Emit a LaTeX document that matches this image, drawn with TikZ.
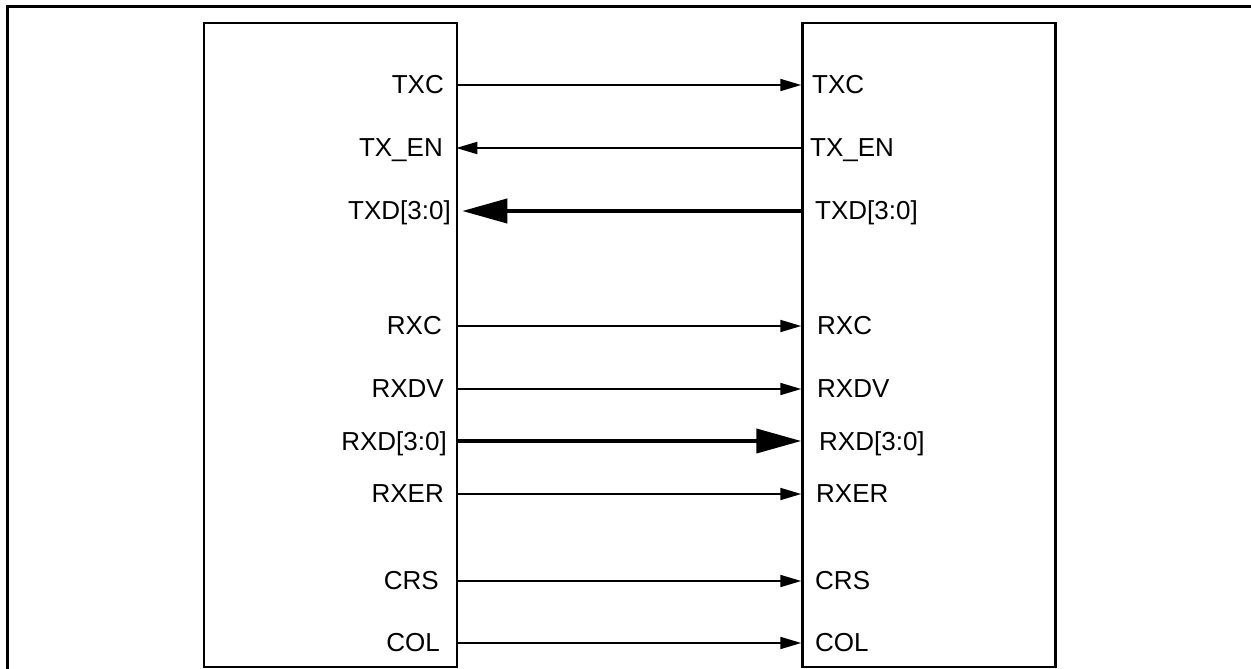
\documentclass[tikz,border=0pt]{standalone}
\usepackage{fontspec}
\setmainfont{Liberation Sans}
\usetikzlibrary{arrows.meta}
\begin{document}
\begin{tikzpicture}[x=1pt,y=-1pt,
  frame/.style={line width=3pt},
  chip/.style={draw,line width=2.5pt,inner sep=0pt,minimum width=253pt,minimum height=644pt},
  lab/.style={inner sep=0pt,font=\fontsize{26}{30}\selectfont},
  sig/.style={line width=1.8pt,-{Triangle[length=21pt,width=12pt]}},
  bus/.style={line width=4pt,-{Triangle[length=45pt,width=24pt]}}]
\useasboundingbox (0,0) rectangle (1251,669);
\draw[frame] (7,669) -- (7,7) -- (1251,7);
\node[chip] (L) at (330.5,345) {};
\node[chip] (R) at (929,345) {};
% row coordinates
\coordinate (yTXC) at (0,85);
\coordinate (yTXEN) at (0,148);
\coordinate (yTXD) at (0,211);
\coordinate (yRXC) at (0,326);
\coordinate (yRXDV) at (0,389);
\coordinate (yRXD) at (0,441);
\coordinate (yRXER) at (0,494);
\coordinate (yCRS) at (0,581);
\coordinate (yCOL) at (0,643);
% left labels
\node[lab,anchor=base east] (lTXC) at (444,93) {TXC};
\node[lab,anchor=base east] (lTXEN) at (443,156) {TX\_EN};
\node[lab,anchor=base east] (lTXD) at (451,219) {TXD[3:0]};
\node[lab,anchor=base east] (lRXC) at (442,334) {RXC};
\node[lab,anchor=base east] (lRXDV) at (444,397) {RXDV};
\node[lab,anchor=base east] (lRXD) at (447,450) {RXD[3:0]};
\node[lab,anchor=base east] (lRXER) at (444,502) {RXER};
\node[lab,anchor=base east] (lCRS) at (439,589) {CRS};
\node[lab,anchor=base east] (lCOL) at (440,651) {COL};
% right labels
\node[lab,anchor=base west] (rTXC) at (812,93) {TXC};
\node[lab,anchor=base west] (rTXEN) at (810,156) {TX\_EN};
\node[lab,anchor=base west] (rTXD) at (815,219) {TXD[3:0]};
\node[lab,anchor=base west] (rRXC) at (817,334) {RXC};
\node[lab,anchor=base west] (rRXDV) at (817,397) {RXDV};
\node[lab,anchor=base west] (rRXD) at (819,450) {RXD[3:0]};
\node[lab,anchor=base west] (rRXER) at (816,502) {RXER};
\node[lab,anchor=base west] (rCRS) at (815,589) {CRS};
\node[lab,anchor=base west] (rCOL) at (815,651) {COL};
% connectors
\draw[sig] (yTXC -| L.east) -- (yTXC -| R.west);
\draw[sig] (yTXEN -| R.west) -- ([xshift=-2pt]yTXEN -| L.east);
\draw[bus] (yTXD -| R.west) -- ([xshift=4pt]yTXD -| L.east);
\draw[sig] (yRXC -| L.east) -- (yRXC -| R.west);
\draw[sig] (yRXDV -| L.east) -- (yRXDV -| R.west);
\draw[bus] (yRXD -| L.east) -- (yRXD -| R.west);
\draw[sig] (yRXER -| L.east) -- (yRXER -| R.west);
\draw[sig] (yCRS -| L.east) -- (yCRS -| R.west);
\draw[sig] (yCOL -| L.east) -- (yCOL -| R.west);
\end{tikzpicture}
\end{document}
